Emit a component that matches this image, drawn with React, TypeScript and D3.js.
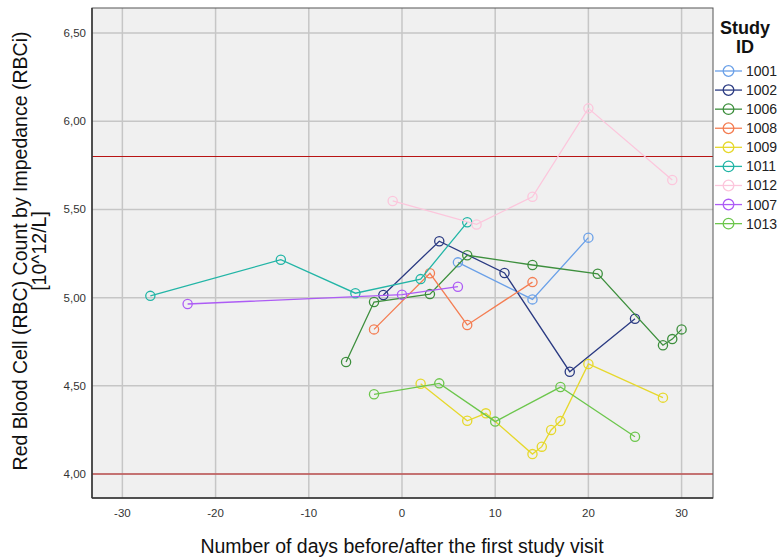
import React from "react";
import * as d3 from "d3";

// Study IDs in legend order with their line colours
const studyIds = ["1001", "1002", "1006", "1008", "1009", "1011", "1012", "1007", "1013"];
const studyColors = ["#6aa0e8", "#2a3a82", "#3d8f3d", "#f47d52", "#e6d82c", "#22b5a6", "#fcc6dc", "#ad5cf5", "#6cc64c"];

// Days relative to the first study visit, per subject
const days1001 = [6, 14, 20];
const rbc1001 = [5.2, 4.99, 5.34];
const days1002 = [-2, 4, 11, 18, 25];
const rbc1002 = [5.015, 5.32, 5.14, 4.58, 4.88];
const days1006 = [-6, -3, 3, 7, 14, 21, 28, 29, 30];
const rbc1006 = [4.635, 4.975, 5.02, 5.24, 5.185, 5.135, 4.73, 4.765, 4.82];
const days1008 = [-3, 3, 7, 14];
const rbc1008 = [4.82, 5.138, 4.845, 5.088];
const days1009 = [2, 7, 9, 14, 15, 16, 17, 20, 28];
const rbc1009 = [4.512, 4.302, 4.344, 4.113, 4.155, 4.25, 4.3, 4.624, 4.433];
const days1011 = [-27, -13, -5, 2, 7];
const rbc1011 = [5.01, 5.215, 5.025, 5.105, 5.427];
const days1012 = [-1, 8, 14, 20, 29];
const rbc1012 = [5.548, 5.415, 5.572, 6.073, 5.667];
const days1007 = [-23, 0, 6];
const rbc1007 = [4.964, 5.017, 5.062];
const days1013 = [-3, 4, 10, 17, 25];
const rbc1013 = [4.452, 4.514, 4.297, 4.493, 4.211];

const seriesDays = [days1001, days1002, days1006, days1008, days1009, days1011, days1012, days1007, days1013];
const seriesRbc = [rbc1001, rbc1002, rbc1006, rbc1008, rbc1009, rbc1011, rbc1012, rbc1007, rbc1013];

// Reference range limits
const refLimits = [4.0, 5.8];

const xTicks = [-30, -20, -10, 0, 10, 20, 30];
const yTicks = [4.0, 4.5, 5.0, 5.5, 6.0, 6.5];

const W = 779;
const H = 559;
const plot = { left: 92, right: 713, top: 8, bottom: 498 };

export default function App() {
  const x = d3.scaleLinear().domain([-33.26, 33.37]).range([plot.left, plot.right]);
  const y = d3.scaleLinear().domain([3.864, 6.642]).range([plot.bottom, plot.top]);
  const fmtY = (v: number) => d3.format(".2f")(v).replace(".", ",");
  const line = d3
    .line<[number, number]>()
    .x((d) => x(d[0]))
    .y((d) => y(d[1]));

  const font = "Arial, 'Liberation Sans', sans-serif";
  const legendX = 715;
  const legendY0 = 71;
  const legendStep = 19.08;

  return (
    <svg width={W} height={H} style={{ position: "absolute", left: 0, top: 0, background: "#fff" }} fontFamily={font}>
      <rect x={plot.left} y={plot.top} width={plot.right - plot.left} height={plot.bottom - plot.top} fill="#f0f0f0" />
      {xTicks.map((t) => (
        <line key={"gx" + t} x1={x(t)} x2={x(t)} y1={plot.top} y2={plot.bottom} stroke="#c6c6c6" strokeWidth={1.5} />
      ))}
      {yTicks.map((t) => (
        <line key={"gy" + t} x1={plot.left} x2={plot.right} y1={y(t)} y2={y(t)} stroke="#c6c6c6" strokeWidth={1.5} />
      ))}
      {refLimits.map((r) => (
        <line key={"ref" + r} x1={plot.left} x2={plot.right} y1={y(r)} y2={y(r)} stroke="#b81414" strokeWidth={1.2} />
      ))}
      {seriesDays.map((ds, i) => {
        const pts = ds.map((d, j) => [d, seriesRbc[i][j]] as [number, number]);
        return (
          <g key={studyIds[i]}>
            <path d={line(pts) || ""} fill="none" stroke={studyColors[i]} strokeWidth={1.3} />
            {pts.map((p, j) => (
              <circle key={j} cx={x(p[0])} cy={y(p[1])} r={4.6} fill="none" stroke={studyColors[i]} strokeWidth={1.3} />
            ))}
          </g>
        );
      })}
      {/* frame */}
      <rect x={plot.left} y={plot.top} width={plot.right - plot.left} height={plot.bottom - plot.top} fill="none" stroke="#555" strokeWidth={1} />
      <line x1={plot.left} x2={plot.left} y1={plot.top} y2={plot.bottom} stroke="#333" strokeWidth={1.5} />
      <line x1={plot.left} x2={plot.right} y1={plot.bottom} y2={plot.bottom} stroke="#333" strokeWidth={1.5} />
      {xTicks.map((t) => (
        <text key={"tx" + t} x={x(t)} y={517} textAnchor="middle" fontSize={11.5} fill="#333">
          {t}
        </text>
      ))}
      {yTicks.map((t) => (
        <text key={"ty" + t} x={86} y={y(t) + 4} textAnchor="end" fontSize={11.5} fill="#333">
          {fmtY(t)}
        </text>
      ))}
      <text x={402} y={553} textAnchor="middle" fontSize={19.5} fill="#111">
        Number of days before/after the first study visit
      </text>
      <g transform="translate(0,251) rotate(-90)">
        <text x={0} y={27} textAnchor="middle" fontSize={19.5} fill="#111">
          Red Blood Cell (RBC) Count by Impedance (RBCi)
        </text>
        <text x={0} y={46} textAnchor="middle" fontSize={19.5} fill="#111">
          [10^12/L]
        </text>
      </g>
      <text x={745} y={34} textAnchor="middle" fontSize={18} fontWeight="bold" fill="#111">
        Study
      </text>
      <text x={745} y={53} textAnchor="middle" fontSize={18} fontWeight="bold" fill="#111">
        ID
      </text>
      {studyIds.map((id, i) => {
        const ly = legendY0 + i * legendStep;
        return (
          <g key={"lg" + id}>
            <line x1={legendX} x2={legendX + 27} y1={ly} y2={ly} stroke={studyColors[i]} strokeWidth={1.3} />
            <circle cx={legendX + 13.5} cy={ly} r={5.3} fill="none" stroke={studyColors[i]} strokeWidth={1.3} />
            <text x={746} y={ly + 5} fontSize={14} fill="#222">
              {id}
            </text>
          </g>
        );
      })}
    </svg>
  );
}
